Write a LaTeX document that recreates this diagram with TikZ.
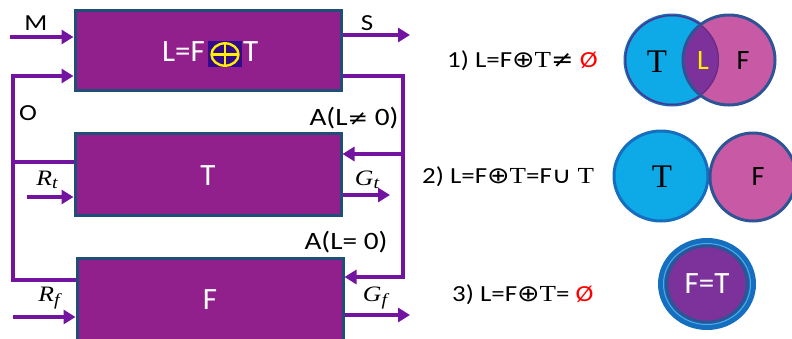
\documentclass[tikz,border=0pt]{standalone}
\usepackage{fontspec}
\setmainfont{Carlito}
\newfontfamily\symf{DejaVu Sans}
\newfontfamily\serf{Liberation Serif}
\usetikzlibrary{arrows.meta,calc}
\newcommand\sx[1]{\scalebox{1.17}[1]{#1}}
\newcommand\ivar[2]{{\serf\itshape #1\raisebox{-3.5pt}{\fontsize{17}{17}\selectfont #2}}}
\definecolor{boxfill}{RGB}{145,31,140}
\definecolor{boxline}{RGB}{31,78,121}
\definecolor{arrc}{RGB}{115,20,160}
\definecolor{oplusbg}{RGB}{50,10,140}
\definecolor{yel}{RGB}{255,240,0}
\definecolor{vblue}{RGB}{14,170,232}
\definecolor{vblueline}{RGB}{22,110,190}
\definecolor{vpink}{RGB}{200,90,165}
\definecolor{vpinkline}{RGB}{47,84,150}
\definecolor{vpurple}{RGB}{125,50,155}
\definecolor{vlight}{RGB}{70,175,235}
\tikzset{
  blk/.style={draw=boxline, fill=boxfill, line width=3pt, minimum width=266pt, inner sep=0pt},
  conn/.style={draw=arrc, line width=4pt, line join=miter},
  arr/.style={conn, -{Triangle[length=12pt,width=14pt]}},
  lbl/.style={font=\fontsize{23}{26}\selectfont, inner sep=0pt},
  albl/.style={font=\fontsize{25}{28}\selectfont, inner sep=0pt},
  mlbl/.style={font=\fontsize{22}{25}\selectfont, inner sep=0pt},
  eq/.style={font=\fontsize{23}{27}\selectfont, inner sep=0pt, anchor=west},
  boxtxt/.style={text=white, font=\fontsize{31}{34}\selectfont, inner sep=0pt}
}
\begin{document}
\begin{tikzpicture}[x=1pt,y=-1pt]
\useasboundingbox (0,0) rectangle (792,338);
% blocks
\node[blk, minimum height=80pt] (b1) at (208,50.5) {};
\node[blk, minimum height=82pt] (b2) at (208,174.5) {};
\node[blk, minimum height=84pt] (b3) at (210,300) {};
% box texts
\fill[oplusbg] (208,41) rectangle (242,67);
\draw[yel, line width=2.4pt] (225,54.5) ellipse [x radius=13.5, y radius=11.2];
\draw[yel, line width=2.2pt] (212,54.5) -- (238,54.5) (225,43.5) -- (225,65.5);
\node[boxtxt, anchor=east] (t1a) at (205,52) {L=F};
\node[boxtxt, anchor=west] (t1b) at (243,52) {T};
\node[boxtxt] (t2) at (208,176) {T};
\node[boxtxt] (t3) at (210,300) {F};
% coordinates
\coordinate (m0) at (10,37);
\coordinate (s1) at (410,35);
\coordinate (rtop) at (403,76);
\coordinate (rmid) at (403,154);
\coordinate (rbot) at (403,277);
\coordinate (ltop) at (13,76);
\coordinate (lmid) at (13,162);
\coordinate (lbot) at (13,280);
\coordinate (rt0) at (27,197);
\coordinate (gt1) at (390,195);
\coordinate (rf0) at (13,317);
\coordinate (gf1) at (410,315);
% connectors
\draw[arr] (m0) -- (m0 -| b1.west);
\draw[arr] (s1 -| b1.east) -- (s1);
\draw[arr] (rtop -| b1.east) -- (rtop) -- (rbot) -- (rbot -| b3.east);
\draw[arr] (rmid) -- (rmid -| b2.east);
\draw[arr] (lbot -| b3.west) -- (lbot) -- (ltop) -- (ltop -| b1.west);
\draw[conn] (lmid) -- (lmid -| b2.west);
\draw[arr] (rt0) -- (rt0 -| b2.west);
\draw[arr] (gt1 -| b2.east) -- (gt1);
\draw[arr] (rf0) -- (rf0 -| b3.west);
\draw[arr] (gf1 -| b3.east) -- (gf1);
% labels
\node[lbl] (lM) at (36,23) {\sx{M}};
\node[lbl] (lS) at (367,23) {\sx{S}};
\node[lbl] (lO) at (28,113) {\sx{O}};
\node[albl] (lA1) at (354,118) {\sx{A(L{\symf\fontsize{21}{24}\selectfont ≠} 0)}};
\node[albl] (lA2) at (346,242) {\sx{A(L= 0)}};
\node[mlbl] (lRt) at (47,180) {\sx{\ivar{R}{t}}};
\node[mlbl] (lGt) at (367,180) {\sx{\ivar{G}{t}}};
\node[mlbl] (lRf) at (49,298) {\sx{\ivar{R}{f}}};
\node[mlbl] (lGf) at (375,298) {\sx{\ivar{G}{f}}};
% equations
\node[eq] (e1) at (447,61) {\sx{1) L=F{\symf ⊕}{\serf T}{\symf ≠} \textcolor{red}{Ø}}};
\node[eq] (e2) at (422,177) {\sx{2) L=F{\symf ⊕}{\serf T}=F{\symf ∪} {\serf T}}};
\node[eq] (e3) at (452,295) {\sx{3) L=F{\symf ⊕}{\serf T}= \textcolor{red}{Ø}}};
% Venn 1
\fill[vblue] (672,60) ellipse [x radius=47, y radius=45];
\draw[vblueline, line width=3pt] (672,60) ellipse [x radius=47, y radius=45];
\fill[vpink] (729,60) ellipse [x radius=46, y radius=45];
\begin{scope}
  \clip (672,60) ellipse [x radius=47, y radius=45];
  \fill[vpurple] (729,60) ellipse [x radius=46, y radius=45];
  \draw[vpurple!80!black, line width=2pt] (672,60) ellipse [x radius=47, y radius=45];
\end{scope}
\draw[vpinkline, line width=3pt] (729,60) ellipse [x radius=46, y radius=45];
\node[font=\serf\fontsize{33}{36}\selectfont, inner sep=0pt] (vt1) at (657,62) {T};
\node[font=\fontsize{28}{31}\selectfont, text=yel, inner sep=0pt] (vl1) at (703,61) {L};
\node[font=\fontsize{28}{32}\selectfont, inner sep=0pt] (vf1) at (743,61) {F};
% Venn 2
\fill[vblue] (661,176) ellipse [x radius=47, y radius=45];
\draw[vblueline, line width=3pt] (661,176) ellipse [x radius=47, y radius=45];
\fill[vpink] (753,177) ellipse [x radius=43, y radius=44];
\draw[vpinkline, line width=3pt] (753,177) ellipse [x radius=43, y radius=44];
\node[font=\serf\fontsize{33}{36}\selectfont, inner sep=0pt] (vt2) at (662,177) {T};
\node[font=\fontsize{28}{32}\selectfont, inner sep=0pt] (vf2) at (758,177) {F};
% Venn 3
\fill[vblueline] (707,284) ellipse [x radius=49, y radius=46];
\draw[vlight, line width=1pt] (707,284) ellipse [x radius=43.5, y radius=40.5];
\fill[vpinkline] (707,284) ellipse [x radius=42, y radius=39.5];
\fill[vpurple] (707,284) ellipse [x radius=38.5, y radius=36.5];
\node[font=\fontsize{31}{34}\selectfont, text=white, inner sep=0pt] (vft) at (707,284) {F=T};
\end{tikzpicture}
\end{document}
